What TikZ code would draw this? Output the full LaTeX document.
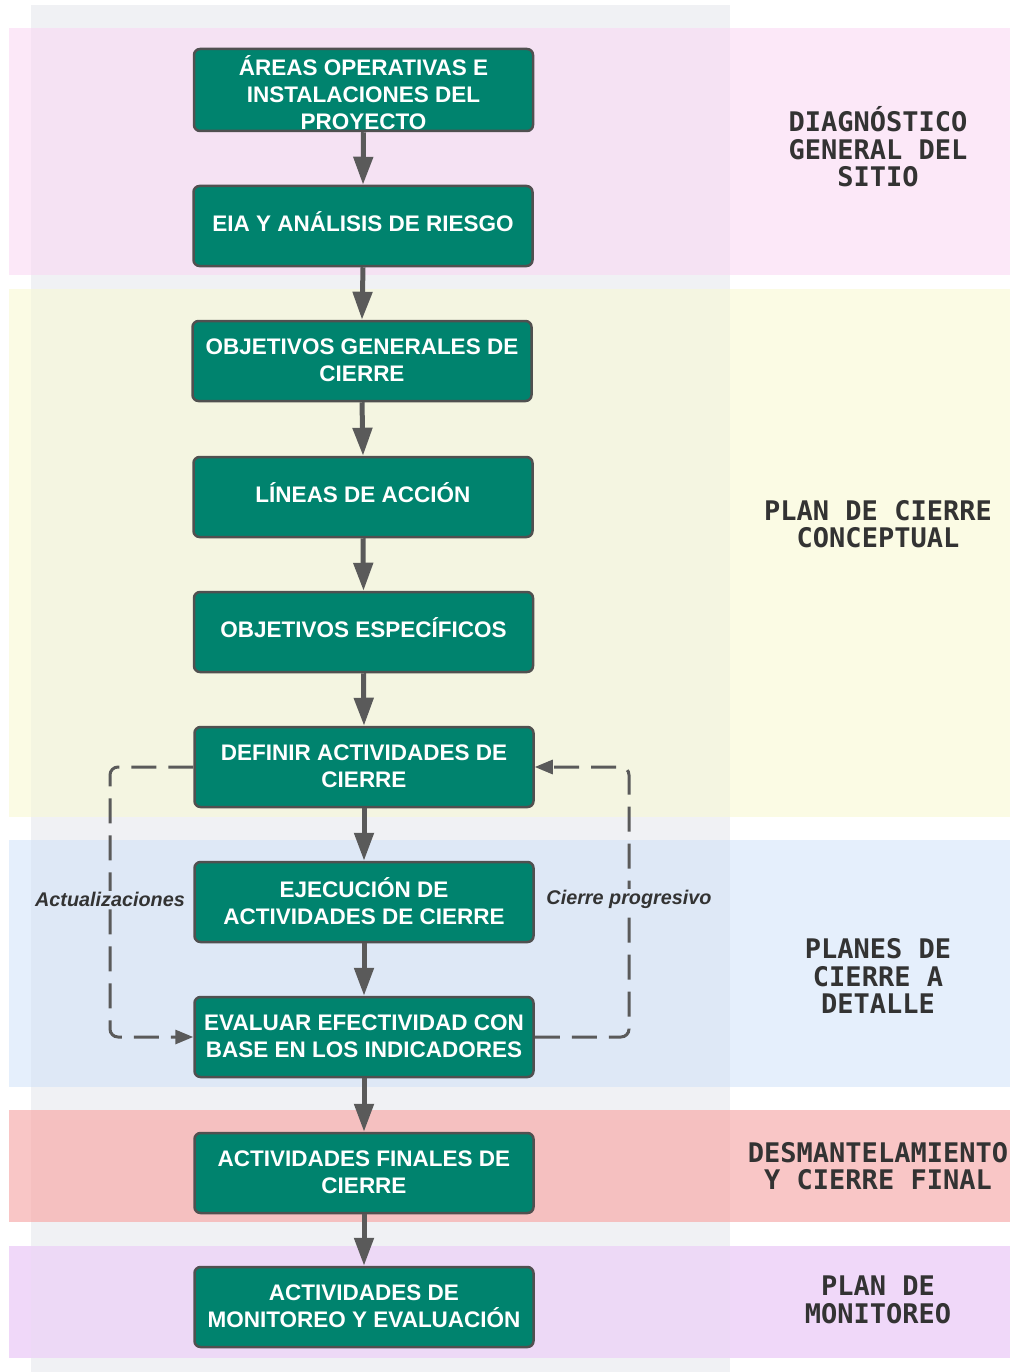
\documentclass[tikz,border=0pt]{standalone}
\usepackage{fontspec}
\setmainfont{Liberation Sans}
\newfontfamily\phasemono{DejaVu Sans Mono}
\usetikzlibrary{arrows.meta}

% palette
\definecolor{colgray}{RGB}{240,241,244}
\definecolor{pinkout}{RGB}{252,232,248}
\definecolor{pinkin}{RGB}{245,226,243}
\definecolor{yelout}{RGB}{251,251,228}
\definecolor{yelin}{RGB}{244,245,225}
\definecolor{bluout}{RGB}{229,239,252}
\definecolor{bluin}{RGB}{222,232,246}
\definecolor{redout}{RGB}{249,198,198}
\definecolor{redin}{RGB}{245,192,192}
\definecolor{purout}{RGB}{240,216,249}
\definecolor{purin}{RGB}{237,217,246}
\definecolor{boxteal}{RGB}{0,131,110}
\definecolor{boxedge}{RGB}{80,80,80}
\definecolor{arrowgray}{RGB}{90,90,90}
\definecolor{inkdark}{RGB}{51,51,51}

% tall first line, pushes a three-line label downwards
\newcommand{\tallstrut}{\rule{0pt}{27pt}}

\tikzset{
  stepbox/.style={draw=boxedge, line width=2.5pt, fill=boxteal, rounded corners=6pt,
    minimum width=339pt, minimum height=80pt, text=white, align=center,
    inner sep=0pt, text depth=9pt, font=\bfseries\fontsize{22.5}{27}\selectfont},
  twoline/.style={text depth=1pt},
  flow/.style={draw=arrowgray, line width=5pt,
    -{Triangle[length=28pt,width=19pt]}},
  loopline/.style={draw=arrowgray, line width=3pt, rounded corners=8pt,
    dash pattern=on 25pt off 12pt,
    -{Triangle[length=18pt,width=14pt]}},
  loopnote/.style={fill=bluin, text=inkdark, inner sep=1pt,
    font=\bfseries\itshape\fontsize{19.8}{22}\selectfont},
  phase/.style={text=inkdark, align=center, inner sep=0pt,
    font=\phasemono\bfseries\fontsize{27}{27.5}\selectfont},
}

\begin{document}
\begin{tikzpicture}[x=1pt, y=-1pt]
\useasboundingbox (0,0) rectangle (1010,1372);
\fill[white] (0,0) rectangle (1010,1372);

% central column
\fill[colgray] (31,5) rectangle (730,1372);

% phase bands
\fill[pinkout] (9,28) rectangle (1010,275);
\fill[pinkin] (31,28) rectangle (730,275);
\fill[yelout] (9,289) rectangle (1010,817);
\fill[yelin] (31,289) rectangle (730,817);
\fill[bluout] (9,840) rectangle (1010,1087);
\fill[bluin] (31,840) rectangle (730,1087);
\fill[redout] (9,1110) rectangle (1010,1222);
\fill[redin] (31,1110) rectangle (730,1222);
\fill[purout] (9,1246) rectangle (1010,1358);
\fill[purin] (31,1246) rectangle (730,1358);

% process steps
\node[stepbox, twoline] (b1) at (363.5,90) {\tallstrut ÁREAS OPERATIVAS E\\INSTALACIONES DEL\\PROYECTO};
\node[stepbox] (b2) at (363,226) {EIA Y ANÁLISIS DE RIESGO};
\node[stepbox, twoline] (b3) at (362,361) {OBJETIVOS GENERALES DE\\CIERRE};
\node[stepbox] (b4) at (363,497) {LÍNEAS DE ACCIÓN};
\node[stepbox] (b5) at (363.5,632) {OBJETIVOS ESPECÍFICOS};
\node[stepbox, twoline] (b6) at (364,767) {DEFINIR ACTIVIDADES DE\\CIERRE};
\node[stepbox, twoline] (b7) at (364,902) {EJECUCIÓN DE\\ACTIVIDADES DE CIERRE};
\node[stepbox, twoline] (b8) at (364,1037) {EVALUAR EFECTIVIDAD CON\\BASE EN LOS INDICADORES};
\node[stepbox, twoline] (b9) at (364,1173) {ACTIVIDADES FINALES DE\\CIERRE};
\node[stepbox, twoline] (b10) at (364,1307) {ACTIVIDADES DE\\MONITOREO Y EVALUACIÓN};

% main flow
\foreach \a/\b in {b1/b2,b2/b3,b3/b4,b4/b5,b5/b6,b6/b7,b7/b8,b8/b9,b9/b10}
  \draw[flow] (\a.south) -- (\b.north);

% feedback loops
\coordinate (lx) at (110,0);
\coordinate (rx) at (629,0);
\draw[loopline] (b6.west) -- (b6.west -| lx) -- (b8.west -| lx) -- (b8.west);
\draw[loopline] (b8.east) -- (b8.east -| rx) -- (b6.east -| rx) -- (b6.east);
\node[loopnote] (nA) at (110,899) {Actualizaciones};
\node[loopnote] (nC) at (629,899) {Cierre progresivo};

% phase names
\node[phase] (p1) at (878,147) {DIAGNÓSTICO\\GENERAL DEL\\SITIO};
\node[phase] (p2) at (878,524) {PLAN DE CIERRE\\CONCEPTUAL};
\node[phase] (p3) at (878,976) {PLANES DE\\CIERRE A\\DETALLE};
\node[phase] (p4) at (878,1166) {DESMANTELAMIENTO\\Y CIERRE FINAL};
\node[phase] (p5) at (878,1300) {PLAN DE\\MONITOREO};
\end{tikzpicture}
\end{document}
